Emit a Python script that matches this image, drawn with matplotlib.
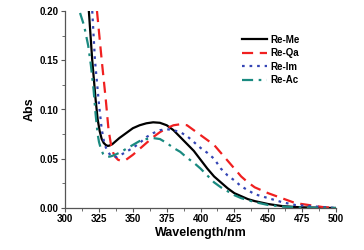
import matplotlib.pyplot as plt
import numpy as np

plt.rcParams['font.family'] = ['Liberation Sans', 'DejaVu Sans']
plt.rcParams['font.weight'] = 'bold'

# Re-Me
me_x = [317.5, 320, 322.5, 324, 325.5, 327, 328.5, 330, 331.5, 333, 335, 337.5, 340,
        345, 350, 355, 360, 365, 370, 375, 380, 385, 390, 395, 400, 405, 410, 415,
        420, 425, 430, 435, 440, 450, 460, 470, 480, 500]
me_y = [0.20, 0.15, 0.11, 0.09, 0.078, 0.070, 0.066, 0.064, 0.063, 0.0635, 0.065,
        0.068, 0.071, 0.076, 0.081, 0.084, 0.086, 0.087, 0.0865, 0.084, 0.079, 0.072,
        0.065, 0.058, 0.049, 0.040, 0.032, 0.026, 0.020, 0.015, 0.012, 0.009, 0.007,
        0.004, 0.002, 0.001, 0.0005, 0.0]

# Re-Qa
qa_x = [323.5, 327, 330, 332, 334, 335.5, 337, 339, 341, 343, 345, 350, 355, 360, 365,
        370, 375, 380, 385, 390, 395, 400, 405, 410, 415, 420, 425, 430, 435, 440, 445,
        450, 460, 470, 480, 490, 500]
qa_y = [0.20, 0.15, 0.11, 0.08, 0.063, 0.056, 0.052, 0.049, 0.048, 0.0482, 0.049, 0.054,
        0.060, 0.066, 0.072, 0.077, 0.081, 0.084, 0.085, 0.084, 0.079, 0.074, 0.069,
        0.064, 0.056, 0.048, 0.040, 0.032, 0.026, 0.021, 0.018, 0.015, 0.010, 0.005,
        0.003, 0.001, 0.0]

# Re-Im
im_x = [320, 322, 325, 327, 329, 330.5, 332, 334, 336, 338, 340, 345, 350, 355, 360,
        365, 370, 375, 380, 385, 390, 395, 400, 405, 410, 415, 420, 425, 430, 440, 450,
        460, 470, 480, 490, 500]
im_y = [0.20, 0.15, 0.105, 0.08, 0.065, 0.060, 0.056, 0.053, 0.052, 0.0518, 0.053,
        0.057, 0.061, 0.066, 0.072, 0.076, 0.079, 0.080, 0.079, 0.077, 0.073, 0.067,
        0.061, 0.056, 0.050, 0.040, 0.033, 0.028, 0.022, 0.014, 0.010, 0.006, 0.003,
        0.002, 0.001, 0.0]

# Re-Ac
ac_x = [311, 314, 317, 319, 321, 322.5, 324, 325, 326, 327, 328, 329.5, 331, 333, 335,
        340, 345, 350, 355, 360, 365, 370, 375, 380, 385, 390, 395, 400, 405, 410, 415,
        420, 425, 430, 435, 440, 450, 460, 470, 480, 500]
ac_y = [0.198, 0.185, 0.165, 0.145, 0.12, 0.095, 0.075, 0.067, 0.062, 0.058, 0.055,
        0.053, 0.052, 0.0522, 0.053, 0.056, 0.060, 0.064, 0.068, 0.070, 0.071, 0.070,
        0.066, 0.061, 0.057, 0.051, 0.046, 0.040, 0.033, 0.026, 0.021, 0.017, 0.013,
        0.010, 0.008, 0.006, 0.003, 0.0015, 0.0007, 0.0003, 0.0]

x_ticks = [300, 325, 350, 375, 400, 425, 450, 475, 500]
y_ticks = [0.00, 0.05, 0.10, 0.15, 0.20]

fig = plt.figure(figsize=(3.64, 2.5), dpi=100)
ax = fig.add_axes([0.179, 0.168, 0.744, 0.788])

ax.plot(me_x, me_y, color='black', lw=1.6, label='Re-Me')
ax.plot(qa_x, qa_y, color='#f02020', lw=1.6, dashes=(5, 3), label='Re-Qa')
ax.plot(im_x, im_y, color='#3445b5', lw=1.6, dashes=(1.2, 2.2), label='Re-Im')
ax.plot(ac_x, ac_y, color='#1a8a80', lw=1.6, dashes=(5, 2.5, 1.2, 2.5), label='Re-Ac')

ax.set_xlim(300, 500)
ax.set_ylim(0, 0.20)
ax.set_xticks(x_ticks)
ax.set_yticks(y_ticks)
ax.set_xticks(np.arange(312.5, 500, 25), minor=True)
ax.set_yticks([0.025, 0.075, 0.125, 0.175], minor=True)
ax.set_yticklabels([f'{v:.2f}' for v in y_ticks])
ax.tick_params(direction='out', labelsize=7, length=3, width=0.8, color='#555555', pad=1.5)
ax.tick_params(which='minor', direction='out', length=2, width=0.6, color='#555555')

for s in ['top', 'right']:
    ax.spines[s].set_visible(False)
for s in ['left', 'bottom']:
    ax.spines[s].set_color('#555555')
    ax.spines[s].set_linewidth(0.9)

ax.set_xlabel('Wavelength/nm', fontsize=9, fontweight='bold', labelpad=2)
ax.set_ylabel('Abs', fontsize=9, fontweight='bold', labelpad=3)

leg = ax.legend(loc='upper left', bbox_to_anchor=(0.627, 0.915), frameon=False,
                fontsize=7, handlelength=2.6, labelspacing=0.37, handletextpad=0.3,
                borderpad=0.2)

fig.savefig('out.png', dpi=100)
